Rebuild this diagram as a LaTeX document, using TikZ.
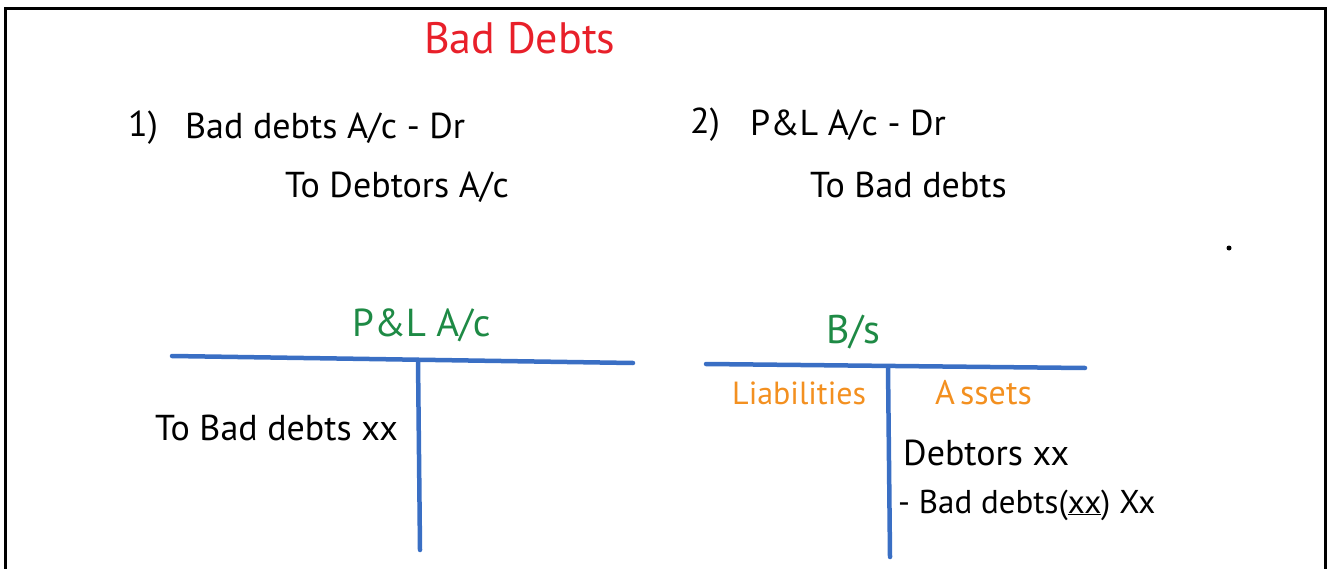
\documentclass[tikz,border=0pt]{standalone}
\usepackage{fontspec}
\setmainfont{PT Sans}
\definecolor{titlered}{HTML}{E8202A}
\definecolor{headgreen}{HTML}{1E8A45}
\definecolor{sideorange}{HTML}{F39020}
\definecolor{tblue}{HTML}{3A6FC4}
\begin{document}
\begin{tikzpicture}[x=1pt,y=-1pt,
  hand/.style={font=\fontsize{36}{40}\selectfont, inner sep=0pt, anchor=west},
  head/.style={hand, text=headgreen, font=\fontsize{39}{43}\selectfont},
  side/.style={hand, text=sideorange, font=\fontsize{32}{36}\selectfont},
  tline/.style={line width=4.5pt, draw=tblue, line cap=round},
]
\useasboundingbox (0,0) rectangle (1329,569);
% outer frame, open at the bottom
\draw[line width=3pt] (5,569) -- (5,8.5) -- (1325,8.5) -- (1325,569);

% title
\node[hand, text=titlered, font=\fontsize{44}{48}\selectfont] (title) at (424,38) {Bad Debts};

% journal entries
\node[hand] (n1) at (128,128) {1)};
\node[hand] (e1) at (185,128) {Bad debts A/c - Dr};
\node[hand] (e1to) at (285,187) {To Debtors A/c};
\node[hand] (n2) at (690,125) {2)};
\node[hand] (e2) at (750,125) {P\&L A/c - Dr};
\node[hand] (e2to) at (810,185) {To Bad debts};
\fill (1229,248) circle (2.5);

% P&L account
\node[head] (pl) at (352,325) {P\&L A/c};
\coordinate (plL) at (172,356);
\coordinate (plR) at (633,363);
\coordinate (plT) at (418,360);
\coordinate (plB) at (420,550);
\draw[tline] (plL) -- (plR);
\draw[tline] (plT) -- (plB);
\node[hand] (plentry) at (155,428) {To Bad debts xx};

% balance sheet
\node[head, font=\fontsize{40}{44}\selectfont] (bs) at (826,332) {B/s};
\coordinate (bsL) at (706,364);
\coordinate (bsR) at (1085,368);
\coordinate (bsT) at (888,367);
\coordinate (bsB) at (890,557);
\draw[tline] (bsL) -- (bsR);
\draw[tline] (bsT) -- (bsB);
\node[side] (liab) at (732,393) {Liabilities};
\node[side, font=\fontsize{34}{38}\selectfont] (assets) at (935,393) {A\kern5pt ssets};
\node[hand] (debtors) at (903,453) {Debtors xx};
\node[hand, font=\fontsize{33}{37}\selectfont] (less) at (898,505) {- Bad debts(\underline{xx}) Xx};
\end{tikzpicture}
\end{document}
